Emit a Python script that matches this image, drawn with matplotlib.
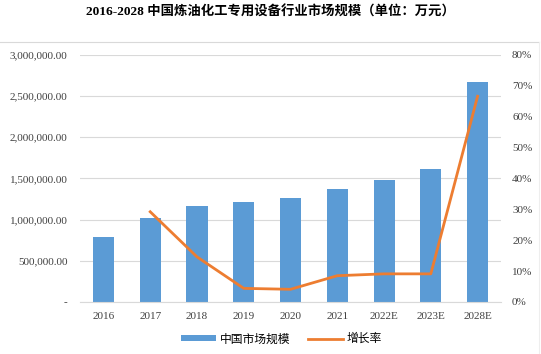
import matplotlib.pyplot as plt
from matplotlib.ticker import FuncFormatter

years = ['2016', '2017', '2018', '2019', '2020', '2021', '2022E', '2023E', '2028E']
market = [789000, 1017000, 1166000, 1208000, 1259000, 1366000, 1477000, 1617000, 2675000]
growth = [None, 29.2, 14.6, 4.4, 4.1, 8.5, 9.1, 9.1, 66.6]

TITLE = '2016-2028 中国炼油化工专用设备行业市场规模（单位：万元）'
BLUE = '#5b9bd5'
ORANGE = '#ed7d31'
GRID = '#d9d9d9'
SERIF = ['Liberation Serif', 'DejaVu Serif']
CJK = ['Noto Sans CJK SC', 'DejaVu Sans']


def left_fmt(v, pos):
    if v == 0:
        return '-'
    return '{:,.2f}'.format(v)


def main():
    fig = plt.figure(figsize=(5.41, 3.54), dpi=100)
    ax = fig.add_axes([0.148, 0.147, 0.778, 0.698])
    x = list(range(len(years)))

    ax.bar(x, market, width=0.45, color=BLUE, zorder=2, label='中国市场规模')
    ax.set_ylim(0, 3000000)
    ax.set_yticks(range(0, 3000001, 500000))
    ax.yaxis.set_major_formatter(FuncFormatter(left_fmt))
    ax.set_xlim(-0.5, len(years) - 0.5)
    ax.set_xticks(x)
    ax.set_xticklabels(years)
    ax.grid(axis='y', color=GRID, linewidth=0.8, zorder=0)
    for s in ['top', 'left', 'right']:
        ax.spines[s].set_visible(False)
    ax.spines['bottom'].set_color(GRID)
    ax.tick_params(length=0, labelsize=8, colors='#404040', pad=7)
    ax.tick_params(axis='y', pad=9)
    for lab in ax.get_xticklabels() + ax.get_yticklabels():
        lab.set_family(SERIF)

    ax2 = ax.twinx()
    gx = [i for i, g in zip(x, growth) if g is not None]
    gy = [g for g in growth if g is not None]
    ax2.plot(gx, gy, color=ORANGE, linewidth=2, zorder=3, label='增长率')
    ax2.set_ylim(0, 80)
    ax2.set_yticks(range(0, 81, 10))
    ax2.yaxis.set_major_formatter(FuncFormatter(lambda v, p: '%d%%' % v))
    for s in ['top', 'left', 'right', 'bottom']:
        ax2.spines[s].set_visible(False)
    ax2.tick_params(length=0, labelsize=8, colors='#404040', pad=8)
    for lab in ax2.get_yticklabels():
        lab.set_family(SERIF)

    # frame lines of the chart area
    fig.add_artist(plt.Line2D([0.0, 0.997], [0.882, 0.882], color=GRID, linewidth=0.8))
    fig.add_artist(plt.Line2D([0.997, 0.997], [0.0, 0.882], color='#eeeeee', linewidth=0.8))

    fig.text(0.5, 0.966, TITLE, ha='center', va='center', fontsize=9.6,
             fontweight='bold', family=['Liberation Serif', 'Noto Sans CJK SC'])

    h1, l1 = ax.get_legend_handles_labels()
    h2, l2 = ax2.get_legend_handles_labels()
    fig.legend(h1 + h2, l1 + l2, loc='center', bbox_to_anchor=(0.52, 0.043),
               ncol=2, frameon=False, prop={'family': CJK, 'size': 8.5},
               handlelength=3, handleheight=0.5, columnspacing=1.5, handletextpad=0.3)

    fig.savefig('out.png', dpi=100)


if __name__ == '__main__':
    main()
